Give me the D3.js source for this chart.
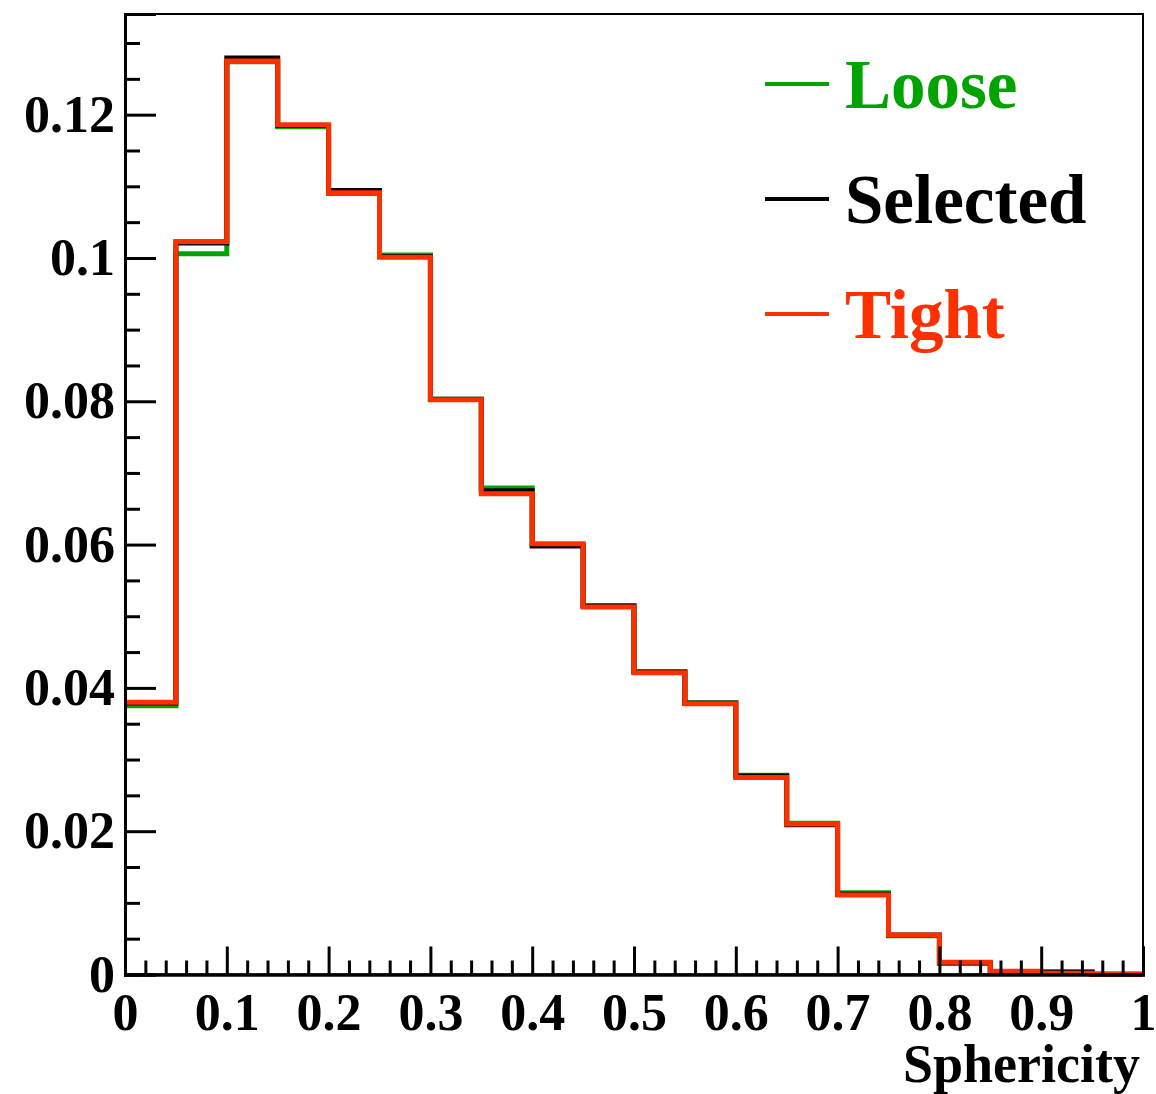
<!DOCTYPE html>
<html>
<head>
<meta charset="utf-8">
<script src="https://cdn.jsdelivr.net/npm/d3@7"></script>
<style>
  body { margin: 0; background: #fff; }
  svg text { font-family: "Liberation Serif", "Times New Roman", serif; font-weight: bold; }
</style>
</head>
<body>
<svg id="chart" width="1156" height="1094"></svg>
<script>
// bin edges of the sphericity histogram (20 bins of 0.05)
const binEdges = [0, 0.05, 0.1, 0.15, 0.2, 0.25, 0.3, 0.35, 0.4, 0.45, 0.5,
    0.55, 0.6, 0.65, 0.7, 0.75, 0.8, 0.85, 0.9, 0.95, 1]

// normalised bin contents
const loose = [0.0375, 0.1006, 0.1274, 0.1183, 0.1090, 0.1004, 0.0803, 0.0679, 0.0599, 0.0515,
    0.0423, 0.0379, 0.0278, 0.0211, 0.0114, 0.0054, 0.0016, 0.0004, 0.0004, 0.00005]
const selected = [0.0379, 0.1021, 0.1279, 0.1185, 0.1094, 0.1002, 0.0803, 0.0675, 0.0598, 0.0514,
    0.0422, 0.0379, 0.0277, 0.0209, 0.0112, 0.0055, 0.0016, 0.0004, 0.0003, 0.00004]
const tight = [0.0380, 0.1023, 0.1275, 0.1186, 0.1091, 0.1001, 0.0802, 0.0671, 0.0601, 0.0513,
    0.0421, 0.0378, 0.0275, 0.0210, 0.0111, 0.0055, 0.0017, 0.00045, 0.00017, 0.00003]

const xMajor = [0, 0.1, 0.2, 0.3, 0.4, 0.5, 0.6, 0.7, 0.8, 0.9, 1]
const xMinor = [0.02, 0.04, 0.06, 0.08, 0.12, 0.14, 0.16, 0.18, 0.22, 0.24, 0.26, 0.28,
    0.32, 0.34, 0.36, 0.38, 0.42, 0.44, 0.46, 0.48, 0.52, 0.54, 0.56, 0.58,
    0.62, 0.64, 0.66, 0.68, 0.72, 0.74, 0.76, 0.78, 0.82, 0.84, 0.86, 0.88,
    0.92, 0.94, 0.96, 0.98]
const yMajor = [0, 0.02, 0.04, 0.06, 0.08, 0.1, 0.12]
const yMinor = [0.005, 0.01, 0.015, 0.025, 0.03, 0.035, 0.045, 0.05, 0.055, 0.065, 0.07, 0.075,
    0.085, 0.09, 0.095, 0.105, 0.11, 0.115, 0.125, 0.13]

const series = [
    { name: 'Loose', values: loose, color: '#00a300' },
    { name: 'Selected', values: selected, color: '#000000' },
    { name: 'Tight', values: tight, color: '#ff3000' }
]

const padL = 125, padR = 1143, padT = 14, padB = 974.5

const svg = d3.select('#chart')

const x = d3.scaleLinear().domain([0, 1]).range([padL, padR])
const y = d3.scaleLinear().domain([0, 0.13405]).range([padB, padT])

// frame
svg.append('rect')
    .attr('x', padL).attr('y', padT)
    .attr('width', padR - padL).attr('height', padB - padT)
    .attr('fill', 'none').attr('stroke', '#000').attr('stroke-width', 2)

// histograms as steps
const step = d3.line()
    .x(d => x(d[0]))
    .y(d => y(d[1]))
    .curve(d3.curveStepAfter)

series.forEach(s => {
    const pts = s.values.map((v, i) => [binEdges[i], v])
    pts.push([binEdges[binEdges.length - 1], s.values[s.values.length - 1]])
    svg.append('path')
        .attr('d', step(pts))
        .attr('fill', 'none')
        .attr('stroke', s.color)
        .attr('stroke-width', 5)
})

// y axis
svg.append('g')
    .attr('transform', `translate(${padL},0)`)
    .call(d3.axisLeft(y).tickValues(yMajor).tickSize(-31).tickPadding(10)
        .tickFormat(d3.format('~g')))
svg.append('g')
    .attr('class', 'minor')
    .attr('transform', `translate(${padL},0)`)
    .call(d3.axisLeft(y).tickValues(yMinor).tickSize(-15).tickFormat(''))

// x axis
svg.append('g')
    .attr('transform', `translate(0,${padB})`)
    .call(d3.axisBottom(x).tickValues(xMajor).tickSize(-28).tickPadding(19)
        .tickFormat(d3.format('~g')))
svg.append('g')
    .attr('class', 'minor')
    .attr('transform', `translate(0,${padB})`)
    .call(d3.axisBottom(x).tickValues(xMinor).tickSize(-14).tickFormat(''))

svg.selectAll('.minor .tick text').remove()
svg.selectAll('.domain').attr('stroke-width', 3)
svg.selectAll('.tick line').attr('stroke-width', 3)
svg.selectAll('.tick text')
    .attr('font-size', 52)
    .attr('fill', '#000')
    .attr('font-family', '"Liberation Serif", "Times New Roman", serif')

// axis title
svg.append('text')
    .attr('x', 1140).attr('y', 1082)
    .attr('text-anchor', 'end')
    .attr('font-size', 54)
    .text('Sphericity')

// legend
const legend = svg.append('g')
legend.selectAll('line')
    .data(series)
    .enter()
    .append('line')
    .attr('x1', 765).attr('x2', 829)
    .attr('y1', (d, i) => 84 + i * 115)
    .attr('y2', (d, i) => 84 + i * 115)
    .attr('stroke', d => d.color)
    .attr('stroke-width', 4)
legend.selectAll('text')
    .data(series)
    .enter()
    .append('text')
    .attr('x', 845)
    .attr('y', (d, i) => 108 + i * 115)
    .attr('font-size', 69)
    .attr('fill', d => d.color)
    .text(d => d.name)
</script>
</body>
</html>
